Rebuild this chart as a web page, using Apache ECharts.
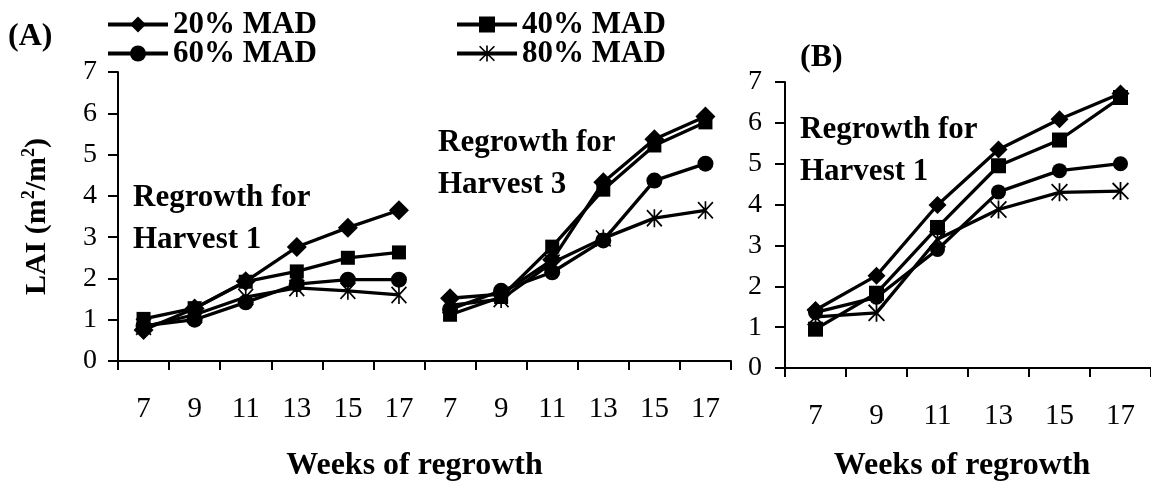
<!DOCTYPE html>
<html>
<head>
<meta charset="utf-8">
<script src="https://cdn.jsdelivr.net/npm/echarts@6/dist/echarts.min.js"></script>
<style>
html,body{margin:0;padding:0;background:#fff;}
#c{width:1151px;height:487px;}
</style>
</head>
<body>
<div id="c"></div>
<script>
// ---- data ----
const weeks = ['7', '9', '11', '13', '15', '17'];
const seriesNames = ['20% MAD', '40% MAD', '60% MAD', '80% MAD'];
const yTicks = [0, 1, 2, 3, 4, 5, 6, 7];

// Panel A – Regrowth for Harvest 1
const a_h1_mad20 = [0.75, 1.27, 1.93, 2.76, 3.23, 3.65];
const a_h1_mad40 = [1.02, 1.28, 1.92, 2.17, 2.50, 2.63];
const a_h1_mad60 = [0.85, 1.00, 1.42, 1.86, 1.97, 1.97];
const a_h1_mad80 = [0.83, 1.12, 1.55, 1.77, 1.70, 1.60];
// Panel A – Regrowth for Harvest 3
const a_h3_mad20 = [1.52, 1.62, 2.45, 4.33, 5.37, 5.92];
const a_h3_mad40 = [1.12, 1.55, 2.77, 4.15, 5.22, 5.78];
const a_h3_mad60 = [1.25, 1.70, 2.15, 2.92, 4.37, 4.78];
const a_h3_mad80 = [1.35, 1.50, 2.38, 2.97, 3.46, 3.65];
// Panel B – Regrowth for Harvest 1
const b_mad20 = [1.42, 2.26, 3.99, 5.35, 6.09, 6.72];
const b_mad40 = [0.95, 1.83, 3.44, 4.95, 5.58, 6.62];
const b_mad60 = [1.36, 1.73, 2.90, 4.31, 4.83, 5.00];
const b_mad80 = [1.25, 1.35, 3.15, 3.88, 4.30, 4.33];

// ---- styling ----
const FONT = "'Liberation Serif', 'Times New Roman', serif";
const STAR = 'path://M9 0L11 0L11 20L9 20Z M1.71 0.29L19.71 18.29L18.29 19.71L0.29 1.71Z M18.29 0.29L19.71 1.71L1.71 19.71L0.29 18.29Z';
const symbols = ['diamond', 'rect', 'circle', STAR];
const sizesA = [[20, 20], 14, 16, [16, 18]];
const sizesB = [[18, 18], 15, 15, [17, 18]];

const nulls = weeks.map(() => null);
const categoriesA = weeks.concat(weeks);

function mkSeries(name, data, xi, yi, idx, sizes) {
  return {
    name: name, type: 'line', xAxisIndex: xi, yAxisIndex: yi,
    data: data, symbol: symbols[idx], symbolSize: sizes[idx],
    connectNulls: false,
    lineStyle: { color: '#000', width: 3.3 },
    itemStyle: { color: '#000' },
    emphasis: { disabled: true },
    animation: false
  };
}

const aH1 = [a_h1_mad20, a_h1_mad40, a_h1_mad60, a_h1_mad80];
const aH3 = [a_h3_mad20, a_h3_mad40, a_h3_mad60, a_h3_mad80];
const bAll = [b_mad20, b_mad40, b_mad60, b_mad80];

const series = [];
seriesNames.forEach((n, i) => {
  series.push(mkSeries(n, aH1[i].concat(nulls), 0, 0, i, sizesA));
  series.push(mkSeries(n, nulls.concat(aH3[i]), 0, 0, i, sizesA));
  series.push(mkSeries(n, bAll[i], 1, 1, i, sizesB));
});

function mkLegend(name, left, top) {
  return {
    data: [name], left: left, top: top, itemWidth: 60, itemHeight: 20,
    itemGap: 0, padding: 0, selectedMode: false,
    lineStyle: { width: 4, color: '#000' },
    textStyle: { fontFamily: FONT, fontSize: 31, fontWeight: 'bold', color: '#000', lineHeight: 30 }
  };
}

const axisLineStyle = { lineStyle: { color: '#000', width: 2 } };
function mkX(data, gi, gap, padRight) {
  return {
    type: 'category', gridIndex: gi, data: data, boundaryGap: true,
    axisLine: axisLineStyle,
    axisTick: { show: true, length: 9, lineStyle: { color: '#000', width: 2 } },
    axisLabel: { interval: 0, margin: 34, color: '#000', fontFamily: FONT, fontSize: 29, lineHeight: 29 },
    name: 'Weeks of regrowth', nameLocation: 'middle', nameGap: gap,
    nameTextStyle: { fontFamily: FONT, fontSize: 32, fontWeight: 'bold', color: '#000', lineHeight: 32,
      padding: [0, padRight, 0, 0] },
    splitLine: { show: false }
  };
}
function mkY(gi, margin, withName) {
  const y = {
    type: 'value', gridIndex: gi, min: 0, max: 7, interval: 1,
    axisLine: { show: true, lineStyle: { color: '#000', width: 2 } },
    axisTick: { show: true, length: 10, lineStyle: { color: '#000', width: 2 } },
    axisLabel: { margin: margin, color: '#000', fontFamily: FONT, fontSize: 28,
      formatter: v => (yTicks.indexOf(v) >= 0 ? String(v) : '') },
    splitLine: { show: false }
  };
  if (withName) {
    y.name = '{b|LAI (m}{s|2}{b|/m}{s|2}{b|)}';
    y.nameLocation = 'middle';
    y.nameGap = 64;
    y.nameTextStyle = {
      rich: {
        b: { fontFamily: FONT, fontSize: 30, fontWeight: 'bold', color: '#000', lineHeight: 34 },
        s: { fontFamily: FONT, fontSize: 18, fontWeight: 'bold', color: '#000', lineHeight: 20, verticalAlign: 'top' }
      }
    };
  }
  return y;
}

function txt(text, left, top, size) {
  return {
    type: 'text', left: left, top: top,
    style: { text: text, font: 'bold ' + size + 'px ' + FONT, fill: '#000' }
  };
}

const option = {
  animation: false,
  backgroundColor: '#fff',
  legend: [
    mkLegend('20% MAD', 106, 9),
    mkLegend('40% MAD', 455, 9),
    mkLegend('60% MAD', 106, 38),
    mkLegend('80% MAD', 455, 38)
  ],
  grid: [
    { left: 118, top: 72, width: 613, height: 296.5, containLabel: false },
    { left: 785, top: 82, width: 369, height: 291, containLabel: false }
  ],
  xAxis: [mkX(categoriesA, 0, 89, 20), mkX(weeks, 1, 82, 12)],
  yAxis: [mkY(0, 21, true), mkY(1, 23, false)],
  series: series,
  graphic: [
    txt('(A)', 8, 21, 32),
    txt('(B)', 800, 42, 32),
    txt('Regrowth for', 133, 182, 31),
    txt('Harvest 1', 133, 224, 31),
    txt('Regrowth for', 438, 127, 31),
    txt('Harvest 3', 438, 169, 31),
    txt('Regrowth for', 800, 114, 31),
    txt('Harvest 1', 800, 156, 31)
  ]
};

const chart = echarts.init(document.getElementById('c'), null, { renderer: 'canvas' });
chart.setOption(option);
</script>
</body>
</html>
